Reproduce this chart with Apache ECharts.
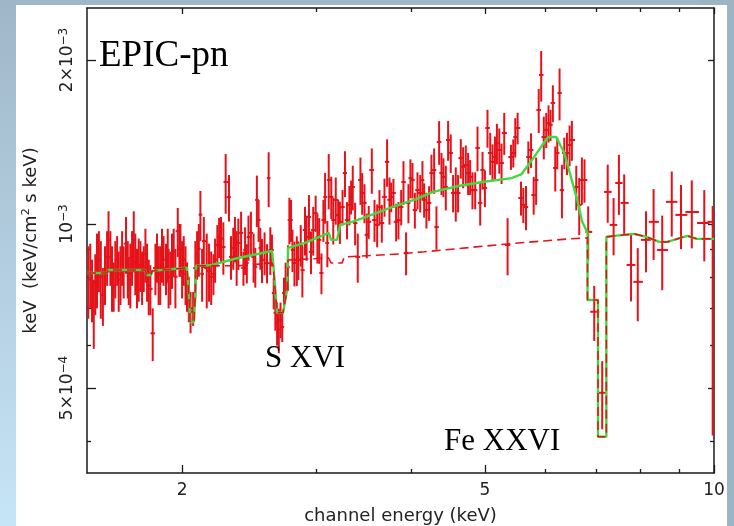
<!DOCTYPE html>
<html><head><meta charset="utf-8">
<script src="https://cdn.jsdelivr.net/npm/echarts@6.0.0/dist/echarts.min.js"></script>
<style>html,body{margin:0;padding:0;background:#fff}#c{width:734px;height:526px}</style>
</head><body><div id="c"></div>
<script>
// ---- data (energy in keV, flux in units of 1e-3 keV/cm2/s/keV) ----
const energy = [1.506,1.515,1.523,1.531,1.538,1.546,1.555,1.564,1.574,1.584,1.594,1.601,1.610,1.618,1.626,1.634,1.643,1.651,1.660,1.668,1.676,1.688,1.697,1.702,1.710,1.719,1.728,1.736,1.745,1.754,1.763,1.772,1.781,1.790,1.799,1.808,1.817,1.830,1.845,1.854,1.863,1.872,1.882,1.891,1.905,1.915,1.920,1.930,1.940,1.950,1.960,1.974,1.984,1.990,2.000,2.010,2.021,2.030,2.041,2.052,2.068,2.082,2.093,2.104,2.114,2.125,2.136,
2.155,2.170,2.184,2.199,2.210,2.225,2.237,2.250,2.266,2.282,2.305,2.319,2.335,2.347,2.359,2.371,2.391,2.408,2.420,2.433,2.445,2.463,2.483,2.496,2.508,2.521,2.534,2.547,2.567,2.586,2.599,2.612,2.625,2.639,2.652,2.666,2.680,2.694,2.708,2.722,2.736,2.756,2.767,2.781,2.793,2.810,2.830,2.843,2.864,2.878,2.901,2.915,2.936,2.954,2.974,2.996,3.012,3.028,3.049,3.067,
3.083,3.104,3.117,3.141,3.160,3.184,3.207,3.224,3.250,3.274,3.294,3.318,3.335,3.352,3.376,3.403,3.431,3.449,3.473,3.497,3.518,3.551,3.580,3.609,3.634,3.660,3.690,3.719,3.746,3.765,3.791,3.822,3.849,3.881,3.908,3.939,3.967,3.991,4.016,4.045,4.077,4.111,4.139,4.160,4.189,4.223,4.253,4.288,4.318,4.353,4.384,4.410,
4.442,4.473,4.509,4.541,4.578,4.610,4.648,4.681,4.719,4.752,4.781,4.815,4.855,4.889,4.929,4.964,5.000,5.039,5.081,5.116,5.154,5.185,5.222,5.258,5.301,5.355,5.410,5.448,5.481,5.520,5.577,5.616,5.662,5.702,5.749,5.795,5.838,5.884,5.928,5.975,6.019,6.061,6.098,6.141,6.186,6.224,6.267,6.312,6.357,
6.409,6.46,6.505,6.592,6.651,6.705,6.758,6.834,6.96,7.13,7.25,7.38,7.50,7.62,7.78,7.94,8.14,8.33,8.55,8.80,9.05,9.35,9.71,9.96];
const flux = [0.79,0.81,0.76,0.69,0.78,0.83,0.86,0.80,0.74,0.81,0.87,0.935,0.87,0.80,0.77,0.83,0.86,0.79,0.81,0.87,0.82,0.92,0.83,0.79,0.81,0.87,0.935,0.85,0.80,0.83,0.84,0.80,0.83,0.88,0.82,0.77,0.76,0.63,0.83,0.87,0.81,0.81,0.88,0.86,0.83,0.88,0.80,0.80,0.86,0.89,0.80,0.97,0.90,0.90,0.83,0.86,0.81,0.77,0.73,0.69,0.70,0.83,0.88,0.90,1.04,0.81,0.93,
0.83,0.82,0.80,0.81,0.86,0.915,0.946,0.94,0.907,1.194,1.12,0.87,0.904,0.94,0.87,0.923,0.963,0.83,0.896,0.848,0.946,0.963,0.87,0.834,1.107,1.017,0.904,0.859,0.885,0.848,1.214,0.896,0.896,0.747,0.687,0.658,0.639,0.667,0.647,0.747,0.789,0.834,1.017,1.017,0.896,0.848,0.859,0.859,0.915,0.823,0.975,0.946,1.030,0.889,0.975,1.047,0.946,0.935,0.813,1.017,
1.121,0.923,1.204,1.121,1.017,1.107,1.039,1.009,1.074,1.240,1.017,1.084,1.121,1.169,1.004,0.870,1.204,1.140,1.093,0.955,1.009,1.256,1.017,0.996,1.074,1.004,1.121,1.300,1.107,1.121,1.140,1.009,1.017,1.074,1.194,0.885,1.093,1.214,1.204,1.061,1.154,1.140,1.204,1.107,1.061,1.093,1.240,1.256,0.987,1.414,1.240,1.220,
1.169,1.426,1.350,1.140,1.140,1.140,1.321,1.273,1.283,1.240,1.220,1.154,1.154,1.379,1.093,1.256,1.164,1.500,1.350,1.300,1.327,1.407,1.367,1.294,1.469,0.915,1.327,1.350,1.444,1.500,1.116,1.084,1.074,1.327,1.367,1.130,1.204,1.619,1.877,1.444,1.488,1.531,1.520,1.667,1.267,1.350,1.739,1.154,1.350,
1.350,1.396,1.426,1.169,1.084,1.204,1.204,0.967,0.690,0.49,1.145,0.996,1.189,1.093,0.841,0.783,0.935,1.009,0.896,1.098,1.039,1.052,1.004,1.009];
const errUp = [0.12,0.11,0.10,0.10,0.10,0.13,0.11,0.13,0.09,0.10,0.10,0.12,0.10,0.11,0.08,0.10,0.09,0.10,0.10,0.10,0.09,0.11,0.10,0.08,0.11,0.10,0.12,0.11,0.10,0.11,0.09,0.09,0.08,0.10,0.10,0.09,0.08,0.07,0.09,0.09,0.10,0.10,0.10,0.09,0.09,0.10,0.10,0.09,0.10,0.09,0.10,0.10,0.10,0.10,0.10,0.09,0.10,0.08,0.07,0.06,0.05,0.10,0.09,0.10,0.11,0.09,0.10,
0.13,0.10,0.09,0.07,0.08,0.08,0.08,0.09,0.10,0.15,0.11,0.08,0.08,0.09,0.10,0.10,0.09,0.06,0.09,0.07,0.09,0.09,0.09,0.07,0.12,0.09,0.08,0.08,0.08,0.07,0.14,0.09,0.06,0.05,0.05,0.06,0.06,0.05,0.04,0.05,0.06,0.08,0.10,0.09,0.08,0.08,0.09,0.07,0.08,0.09,0.10,0.09,0.10,0.08,0.10,0.08,0.10,0.09,0.07,0.09,
0.12,0.09,0.14,0.10,0.10,0.11,0.07,0.09,0.08,0.12,0.08,0.09,0.08,0.11,0.09,0.09,0.12,0.10,0.09,0.09,0.07,0.12,0.09,0.09,0.08,0.08,0.09,0.13,0.11,0.07,0.07,0.08,0.08,0.08,0.11,0.08,0.09,0.10,0.09,0.08,0.09,0.09,0.10,0.08,0.08,0.08,0.10,0.12,0.09,0.13,0.11,0.10,
0.11,0.12,0.11,0.09,0.13,0.09,0.11,0.11,0.11,0.11,0.09,0.09,0.09,0.13,0.10,0.10,0.09,0.12,0.12,0.10,0.12,0.12,0.13,0.11,0.13,0.11,0.07,0.08,0.12,0.10,0.08,0.08,0.10,0.09,0.10,0.09,0.12,0.15,0.20,0.13,0.11,0.12,0.10,0.13,0.12,0.09,0.19,0.13,0.09,
0.12,0.12,0.12,0.11,0.13,0.12,0.11,0.11,0.08,0.07,0.14,0.12,0.15,0.14,0.12,0.12,0.12,0.15,0.14,0.15,0.14,0.15,0.15,0.07];
const errDn = [0.12,0.11,0.10,0.10,0.10,0.13,0.11,0.13,0.09,0.10,0.10,0.12,0.10,0.11,0.08,0.10,0.09,0.10,0.10,0.10,0.09,0.11,0.10,0.08,0.11,0.10,0.12,0.11,0.10,0.11,0.09,0.09,0.08,0.10,0.10,0.09,0.08,0.07,0.09,0.09,0.10,0.10,0.10,0.09,0.09,0.10,0.10,0.09,0.10,0.09,0.10,0.10,0.10,0.10,0.10,0.09,0.10,0.08,0.07,0.06,0.05,0.10,0.09,0.10,0.11,0.09,0.10,
0.13,0.10,0.09,0.07,0.08,0.08,0.08,0.09,0.10,0.15,0.11,0.08,0.08,0.09,0.10,0.10,0.09,0.06,0.09,0.07,0.09,0.09,0.09,0.07,0.12,0.09,0.08,0.08,0.08,0.07,0.14,0.09,0.06,0.05,0.05,0.06,0.06,0.05,0.04,0.05,0.06,0.08,0.10,0.09,0.08,0.08,0.09,0.07,0.08,0.09,0.10,0.09,0.10,0.08,0.10,0.08,0.10,0.09,0.07,0.09,
0.12,0.09,0.14,0.10,0.10,0.11,0.07,0.09,0.08,0.12,0.08,0.09,0.08,0.11,0.09,0.09,0.12,0.10,0.09,0.09,0.07,0.12,0.09,0.09,0.08,0.08,0.09,0.13,0.11,0.07,0.07,0.08,0.08,0.08,0.11,0.08,0.09,0.10,0.09,0.08,0.09,0.09,0.10,0.08,0.08,0.08,0.10,0.12,0.09,0.13,0.11,0.10,
0.11,0.12,0.11,0.09,0.13,0.09,0.11,0.11,0.11,0.11,0.09,0.09,0.09,0.13,0.10,0.10,0.09,0.12,0.12,0.10,0.12,0.12,0.13,0.11,0.13,0.11,0.07,0.08,0.12,0.10,0.08,0.08,0.10,0.09,0.10,0.09,0.12,0.15,0.20,0.13,0.11,0.12,0.10,0.13,0.12,0.09,0.19,0.13,0.09,
0.12,0.12,0.12,0.11,0.13,0.12,0.11,0.11,0.08,0.07,0.14,0.12,0.15,0.14,0.12,0.12,0.12,0.15,0.14,0.15,0.14,0.15,0.15,0.60];
// best-fit model (green)
const modelE = [1.500,1.594,1.599,1.788,1.799,1.821,1.826,2.030,2.043,2.049,2.073,2.080,2.086,2.190,2.369,2.626,2.634,2.666,2.714,2.748,2.756,2.901,3.117,3.139,3.197,3.226,3.345,3.490,3.775,4.061,4.273,4.614,4.960,5.421,5.589,5.764,5.924,6.055,6.205,6.357,6.611,6.712,6.820,6.820,7.040,7.040,7.220,7.220,7.396,7.856,8.148,8.474,8.682,9.222,9.491,10.0];
const modelF = [0.813,0.813,0.823,0.823,0.806,0.806,0.820,0.831,0.726,0.661,0.661,0.726,0.838,0.841,0.866,0.892,0.852,0.687,0.687,0.757,0.904,0.923,0.963,0.935,0.935,0.996,1.009,1.030,1.074,1.111,1.145,1.174,1.194,1.214,1.235,1.310,1.384,1.444,1.444,1.350,1.107,1.009,0.963,0.725,0.725,0.407,0.407,0.947,0.951,0.959,0.947,0.927,0.927,0.951,0.939,0.939];
// continuum with absorption lines (red dashed)
const contE = [1.500,1.594,1.599,1.788,1.799,1.821,1.826,2.030,2.043,2.049,2.073,2.080,2.086,2.190,2.381,2.626,2.634,2.666,2.714,2.748,2.756,3.117,3.139,3.246,3.266,3.857,4.160,4.419,5.348,6.453,6.820,6.820,7.040,7.040,7.220,7.220,7.396,7.856,8.148,8.474,8.682,9.222,9.491,10.0];
const contF = [0.813,0.813,0.823,0.823,0.806,0.806,0.820,0.831,0.726,0.661,0.661,0.726,0.838,0.838,0.838,0.848,0.840,0.687,0.687,0.757,0.859,0.866,0.848,0.848,0.870,0.881,0.889,0.896,0.919,0.939,0.943,0.725,0.725,0.407,0.407,0.947,0.951,0.959,0.947,0.927,0.927,0.951,0.939,0.939];
// axes
const xRange = [1.5, 10];
const yRange = [3.491e-4, 2.491e-3];
const xMajorTicks = [2, 5, 10];
const xMajorLabels = ['2', '5', '10'];
const xMinorTicks = [3, 4, 6, 7, 8, 9];
const yMajorTicks = [5e-4, 1e-3, 2e-3];
const yMajorMant = ['5×10', '10', '2×10'];
const yMajorExp = ['−4', '−3', '−3'];
const yMinorTicks = [4e-4, 6e-4, 7e-4, 8e-4, 9e-4];
const annotations = [
  {text: 'EPIC-pn', x: 99, y: 56, size: 37},
  {text: 'S XVI', x: 265, y: 359, size: 31},
  {text: 'Fe XXVI', x: 444, y: 442, size: 31}
];

const L = Math.log10;
const RED = '#e5121a', GREEN = '#40da40', INK = '#1a1a1a', SANS = '"DejaVu Sans", sans-serif';

const bars = energy.map((e, i) => {
  const le = L(e);
  const prev = i > 0 ? L(energy[i - 1]) : 2 * le - L(energy[i + 1]);
  const next = i < energy.length - 1 ? L(energy[i + 1]) : 2 * le - prev;
  return [le, L(flux[i] * 1e-3), L((flux[i] - errDn[i]) * 1e-3), L((flux[i] + errUp[i]) * 1e-3), (le + prev) / 2, (le + next) / 2];
});
const model = modelE.map((e, i) => [L(e), L(modelF[i] * 1e-3)]);
const cont = contE.map((e, i) => [L(e), L(contF[i] * 1e-3)]);

const near = (a, b) => Math.abs(a - b) < 1e-6;
function xAx(pos, ticks, len, withLabels, showLine) {
  return {
    type: 'value', position: pos, min: L(xRange[0]), max: L(xRange[1]),
    axisLine: {show: showLine, onZero: false, lineStyle: {color: INK, width: 1.5}},
    axisTick: {show: true, inside: true, length: len, customValues: ticks.map(L), lineStyle: {color: INK, width: 1.3}},
    axisLabel: withLabels ? {
      show: true, customValues: ticks.map(L), margin: 9, color: '#222', fontSize: 17, fontFamily: SANS,
      formatter: v => { const k = xMajorTicks.findIndex(t => near(L(t), v)); return k >= 0 ? xMajorLabels[k] : ''; }
    } : {show: false},
    splitLine: {show: false}
  };
}
function yAx(pos, ticks, len, withLabels, showLine) {
  return {
    type: 'value', position: pos, min: L(yRange[0]), max: L(yRange[1]),
    axisLine: {show: showLine, onZero: false, lineStyle: {color: INK, width: 1.5}},
    axisTick: {show: true, inside: true, length: len, customValues: ticks.map(L), lineStyle: {color: INK, width: 1.3}},
    axisLabel: withLabels ? {
      show: true, customValues: ticks.map(L), margin: 11, rotate: 90, color: '#222',
      formatter: v => { const k = yMajorTicks.findIndex(t => near(L(t), v)); return k >= 0 ? '{m|' + yMajorMant[k] + '}{e|' + yMajorExp[k] + '}' : ''; },
      rich: {
        m: {fontSize: 17, fontFamily: SANS, color: '#222', lineHeight: 18, verticalAlign: 'bottom'},
        e: {fontSize: 12, fontFamily: SANS, color: '#222', lineHeight: 12, verticalAlign: 'top', padding: [0, 0, 12, 0]}
      }
    } : {show: false},
    splitLine: {show: false}
  };
}

const xAxes = [xAx('bottom', xMajorTicks, 8, true, true), xAx('bottom', xMinorTicks, 4, false, false),
               xAx('top', xMajorTicks, 6, false, true), xAx('top', xMinorTicks, 4, false, false)];
Object.assign(xAxes[0], {name: 'channel energy (keV)', nameLocation: 'middle', nameGap: 34, nameMoveOverlap: false,
  nameTextStyle: {fontSize: 18, fontFamily: SANS, color: '#222'}});
const yAxes = [yAx('left', yMajorTicks, 9, true, true), yAx('left', yMinorTicks, 4, false, false),
               yAx('right', yMajorTicks, 6, false, true), yAx('right', yMinorTicks, 4, false, false)];
Object.assign(yAxes[0], {name: '{n|keV  (keV/cm}{s|2}{n| s keV)}', nameLocation: 'middle', nameGap: 47, nameRotate: 90, nameMoveOverlap: false,
  nameTextStyle: {color: '#222', rich: {
    n: {fontSize: 18, fontFamily: SANS, color: '#222', lineHeight: 19, verticalAlign: 'bottom'},
    s: {fontSize: 11, fontFamily: SANS, color: '#222', lineHeight: 11, verticalAlign: 'top', padding: [0, 0, 10, 0]}
  }}});

const chart = echarts.init(document.getElementById('c'), null, {renderer: 'canvas'});
chart.setOption({
  animation: false,
  backgroundColor: 'transparent',
  grid: {left: 87, right: 20, top: 8, bottom: 53, containLabel: false, outerBoundsMode: 'none'},
  graphic: [
    {type: 'rect', z: -100, silent: true, shape: {x: 0, y: 0, width: 734, height: 526},
     style: {fill: new echarts.graphic.LinearGradient(0, 0, 0, 1, [{offset: 0, color: '#9fb6c8'}, {offset: 1, color: '#c6e5f7'}])}},
    {type: 'rect', z: -99, silent: true, shape: {x: 700, y: 0, width: 34, height: 526}, style: {fill: '#9db4c5'}},
    {type: 'rect', z: -98, silent: true, shape: {x: 16, y: 5, width: 711, height: 521}, style: {fill: '#ffffff'}},
    ...annotations.map(a => ({type: 'text', z: 100, silent: true,
      style: {text: a.text, x: a.x, y: a.y, fill: '#000', fontSize: a.size, fontFamily: '"Liberation Serif", "Times New Roman", serif', verticalAlign: 'middle', align: 'left'}}))
  ],
  xAxis: xAxes,
  yAxis: yAxes,
  series: [
    {type: 'custom', xAxisIndex: 0, yAxisIndex: 0, clip: true, z: 2,
     encode: {x: [0, 4, 5], y: [1, 2, 3]},
     data: bars,
     renderItem: (params, api) => {
       const x = api.value(0), y = api.value(1);
       const lo = api.coord([x, api.value(2)]), hi = api.coord([x, api.value(3)]);
       const l = api.coord([api.value(4), y]), r = api.coord([api.value(5), y]);
       const style = {stroke: RED, lineWidth: 2};
       return {type: 'group', children: [
         {type: 'line', shape: {x1: lo[0], y1: lo[1], x2: hi[0], y2: hi[1]}, style},
         {type: 'line', shape: {x1: l[0] - 1, y1: l[1], x2: r[0] + 1, y2: r[1]}, style}
       ]};
     }},
    {type: 'line', xAxisIndex: 0, yAxisIndex: 0, data: model, showSymbol: false, clip: true, z: 3,
     lineStyle: {color: GREEN, width: 2.4}},
    {type: 'line', xAxisIndex: 0, yAxisIndex: 0, data: cont, showSymbol: false, clip: true, z: 4,
     lineStyle: {color: RED, width: 1.6, type: [9, 5]}}
  ]
});
</script></body></html>
